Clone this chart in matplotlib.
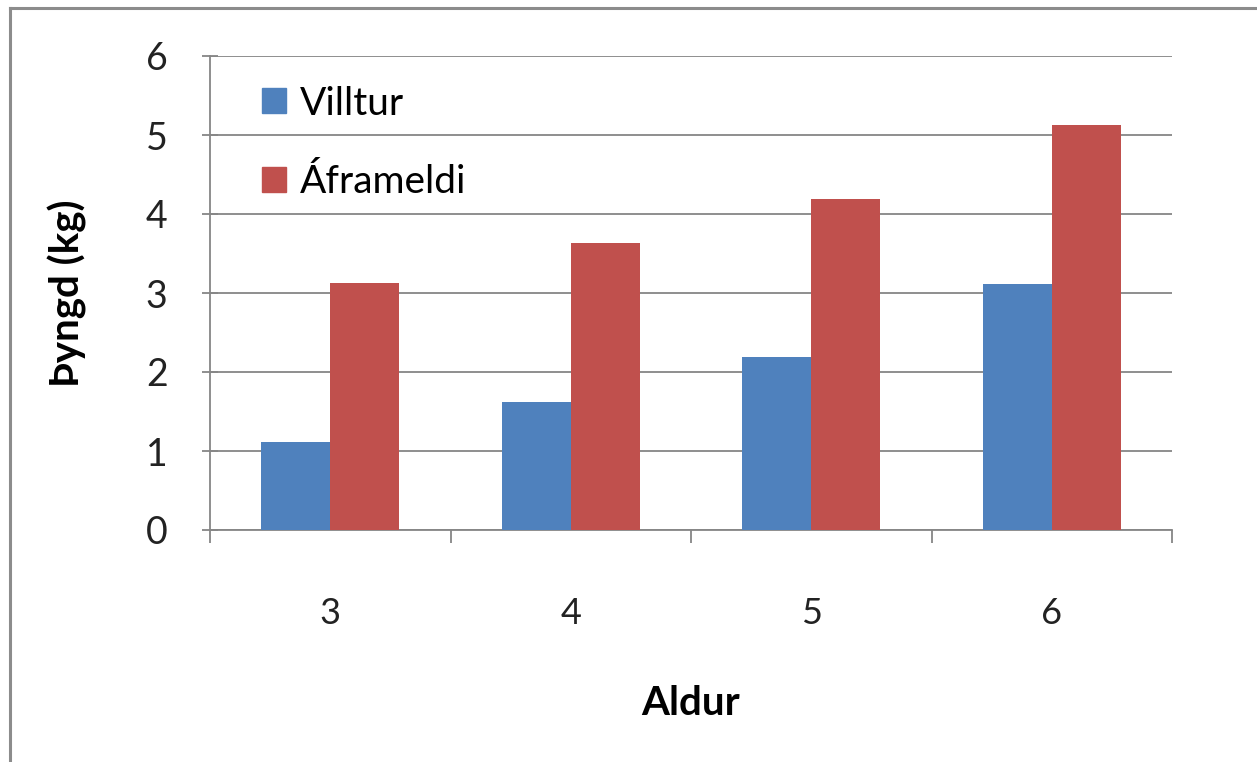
import matplotlib
matplotlib.use('Agg')
import matplotlib.pyplot as plt
from matplotlib.patches import Patch
from matplotlib.lines import Line2D
import numpy as np

ages = ['3', '4', '5', '6']
villtur = [1.12, 1.62, 2.19, 3.12]
aframeldi = [3.13, 3.63, 4.19, 5.13]
series_names = ['Villtur', 'Áframeldi']
series_colors = ['#4F81BD', '#C0504D']

plt.rcParams['font.family'] = ['Lato', 'DejaVu Sans']

W, H = 1257, 762
fig = plt.figure(figsize=(W / 100, H / 100), dpi=100)
fig.patch.set_facecolor('white')

# outer chart frame (only top and left visible)
fig.add_artist(Line2D([10 / W, 10 / W], [0, 1 - 8 / H], transform=fig.transFigure,
                      color='#8c8c8c', lw=2.2))
fig.add_artist(Line2D([10 / W, 1], [1 - 8 / H, 1 - 8 / H], transform=fig.transFigure,
                      color='#8c8c8c', lw=2.2))

ax = fig.add_axes([210 / W, 232 / H, (1172 - 210) / W, 474 / H])

x = np.arange(len(ages))
bw = 0.287
ax.bar(x - bw / 2, villtur, width=bw, color=series_colors[0], zorder=3)
ax.bar(x + bw / 2, aframeldi, width=bw, color=series_colors[1], zorder=3)

ax.set_xlim(-0.5, len(ages) - 0.5)
ax.set_ylim(0, 6)
ax.set_yticks(range(0, 7))
ax.yaxis.grid(True, color='#868686', lw=1.3, zorder=0)
ax.set_axisbelow(True)

ax.set_xticks(x)
ax.set_xticklabels(ages)
ax.set_xticks(np.arange(-0.5, len(ages)), minor=True)
ax.tick_params(axis='x', which='major', length=0, pad=48, labelsize=26, labelcolor='#222222')
ax.tick_params(axis='x', which='minor', length=9, width=1.3, color='#868686', direction='out')
ax.tick_params(axis='y', which='major', length=11, width=1.3, color='#868686', pad=25,
               labelsize=27, labelcolor='#222222', direction='inout')

for side in ['top', 'right']:
    ax.spines[side].set_visible(False)
for side in ['left', 'bottom']:
    ax.spines[side].set_color('#868686')
    ax.spines[side].set_linewidth(1.3)

ax.set_xlabel('Aldur', fontsize=29, fontweight='bold', labelpad=40)
ax.set_ylabel('Þyngd (kg)', fontsize=29, fontweight='bold', labelpad=42)

handles = [Patch(color=c) for c in series_colors]
ax.legend(handles, series_names, loc='upper left', bbox_to_anchor=(0.0375, 0.9705),
          frameon=False, fontsize=28, handlelength=0.62, handleheight=0.62,
          handletextpad=0.36, labelspacing=1.09, borderaxespad=0)

fig.savefig('out.png', dpi=100, facecolor='white')
